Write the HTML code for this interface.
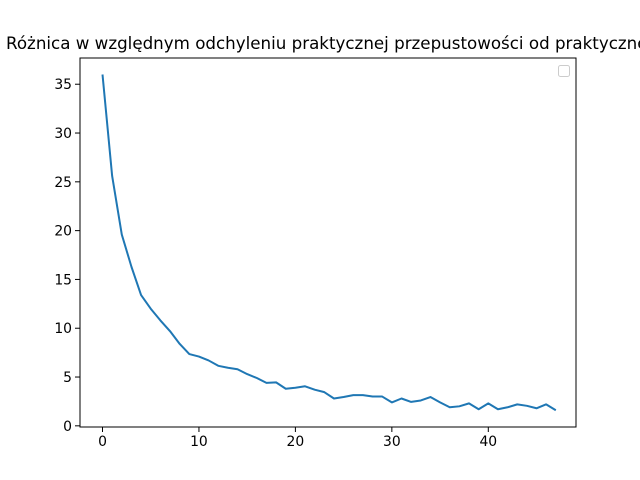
<!DOCTYPE html>
<html><head><meta charset="utf-8"><style>body{margin:0;background:#fff}svg{display:block}</style></head>
<body>
<svg width="640" height="480" viewBox="0 0 640 480" font-family="DejaVu Sans, Liberation Sans, sans-serif">
<text x="6" y="49" font-size="16.7" fill="#000">Różnica w względnym odchyleniu praktycznej przepustowości od praktycznej i teoretycznej</text>
<g id="plot"></g>
<rect x="80" y="58" width="496" height="369" fill="none" stroke="#000" stroke-width="1"/>
<rect x="558.5" y="65.5" width="11" height="11" rx="2" fill="#fff" stroke="#ccc"/>
</svg>
<script>
const yValues=[36,25.6,19.6,16.3,13.4,12.0,10.8,9.7,8.4,7.35,7.1,6.7,6.15,5.95,5.8,5.3,4.9,4.4,4.45,3.8,3.9,4.05,3.7,3.45,2.8,2.95,3.15,3.15,3.0,3.0,2.4,2.8,2.45,2.6,2.95,2.4,1.9,2.0,2.3,1.7,2.3,1.7,1.9,2.2,2.05,1.8,2.2,1.6];
const xTicks=[0,10,20,30,40];
const yTicks=[0,5,10,15,20,25,30,35];
const X=v=>102.5+v*9.645;
const Y=v=>427-(v+0.12)*9.76;
const g=document.getElementById('plot');
const ns='http://www.w3.org/2000/svg';
function mk(t,a){const e=document.createElementNS(ns,t);for(const k in a)e.setAttribute(k,a[k]);g.appendChild(e);return e;}
xTicks.forEach(t=>{
 const l=mk('line',{x1:X(t),x2:X(t),y1:427,y2:432,stroke:'#000'});
 
 
 const s=mk('text',{x:X(t),y:446,'font-size':13.9,'text-anchor':'middle'});s.textContent=t;
 
 
});
yTicks.forEach(t=>{
 const l=mk('line',{x1:75,x2:80,y1:Y(t),y2:Y(t),stroke:'#000'});
 
 
 const s=mk('text',{x:72,y:Y(t)+5,'font-size':13.9,'text-anchor':'end'});s.textContent=t;
 
 
});
const p=mk('polyline',{points:yValues.map((v,i)=>X(i)+','+Y(v)).join(' '),fill:'none',stroke:'#1f77b4','stroke-width':2,'stroke-linejoin':'round'});


</script>
</body></html>
